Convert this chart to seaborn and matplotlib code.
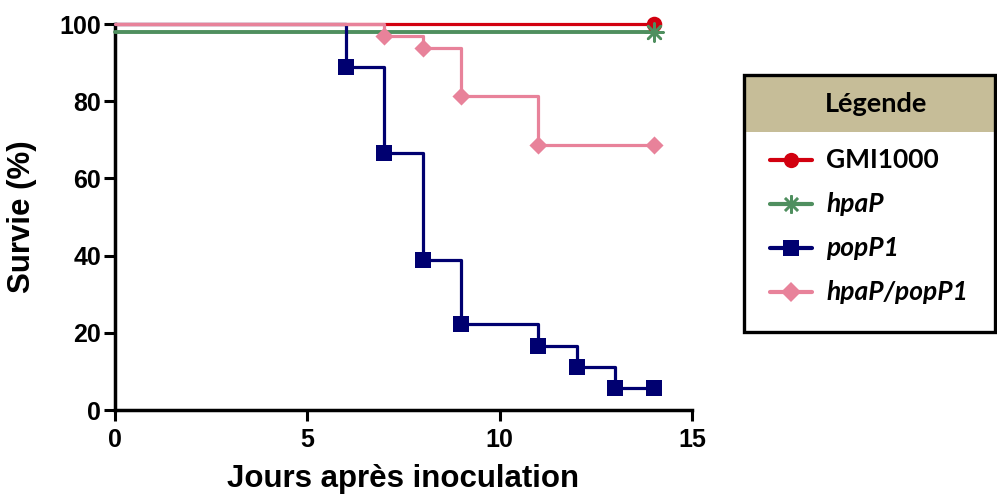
import matplotlib
matplotlib.use("Agg")
import matplotlib.pyplot as plt
from matplotlib.patches import Rectangle
from matplotlib.lines import Line2D
import seaborn as sns

# Kaplan-Meier survival data (days after inoculation, % survival)
gmi_days = [0, 14]
gmi_surv = [100.0, 100.0]
gmi_mark_days = [14]
gmi_mark_surv = [100.0]

hpap_days = [0, 14]
hpap_surv = [98.0, 98.0]
hpap_mark_days = [14]
hpap_mark_surv = [98.0]

popp1_days = [0, 6, 7, 8, 9, 11, 12, 13, 14]
popp1_surv = [100.0, 88.9, 66.7, 38.9, 22.2, 16.7, 11.1, 5.6, 5.6]
popp1_mark_days = [6, 7, 8, 9, 11, 12, 13, 14]
popp1_mark_surv = [88.9, 66.7, 38.9, 22.2, 16.7, 11.1, 5.6, 5.6]

double_days = [0, 7, 8, 9, 11, 14]
double_surv = [100.0, 96.9, 93.75, 81.25, 68.75, 68.75]
double_mark_days = [7, 8, 9, 11, 14]
double_mark_surv = [96.9, 93.75, 81.25, 68.75, 68.75]

x_ticks = [0, 5, 10, 15]
y_ticks = [0, 20, 40, 60, 80, 100]

legend_labels = ["GMI1000", "hpaP", "popP1", "hpaP/popP1"]
legend_italic = [False, True, True, True]

RED = "#d2000f"
GREEN = "#4f8f5f"
NAVY = "#000070"
PINK = "#e8829a"
TAN = "#c6bd98"

sns.set_theme(style="ticks")
plt.rcParams["font.family"] = ["Liberation Sans", "DejaVu Sans"]
plt.rcParams["text.color"] = "black"
plt.rcParams["axes.labelcolor"] = "black"
plt.rcParams["xtick.color"] = "black"
plt.rcParams["ytick.color"] = "black"

W, H = 997, 500
fig = plt.figure(figsize=(W / 100, H / 100), dpi=100)
ax = fig.add_axes([115 / W, 1 - 410 / H, (692 - 115) / W, (410 - 24) / H])

# survival curves as step functions
sns.lineplot(x=gmi_days, y=gmi_surv, drawstyle="steps-post", color=RED,
             lw=2.3, ax=ax, zorder=2, clip_on=False)
sns.lineplot(x=hpap_days, y=hpap_surv, drawstyle="steps-post", color=GREEN,
             lw=2.8, ax=ax, zorder=3, clip_on=False)
sns.lineplot(x=popp1_days, y=popp1_surv, drawstyle="steps-post", color=NAVY,
             lw=2.3, ax=ax, zorder=4, clip_on=False)
sns.lineplot(x=double_days, y=double_surv, drawstyle="steps-post", color=PINK,
             lw=2.3, ax=ax, zorder=5, clip_on=False)

# event markers
sns.scatterplot(x=gmi_mark_days, y=gmi_mark_surv, marker="o", s=125,
                color=RED, linewidth=0, ax=ax, zorder=6, clip_on=False)
sns.scatterplot(x=hpap_mark_days, y=hpap_mark_surv, marker=(8, 2, 0), s=170,
                color=GREEN, linewidth=1.8, ax=ax, zorder=7, clip_on=False)
sns.scatterplot(x=popp1_mark_days, y=popp1_mark_surv, marker="s", s=135,
                color=NAVY, linewidth=0, ax=ax, zorder=8, clip_on=False)
sns.scatterplot(x=double_mark_days, y=double_mark_surv, marker="D", s=85,
                color=PINK, linewidth=0, ax=ax, zorder=9, clip_on=False)

ax.set_xlim(0, 15)
ax.set_ylim(0, 100)
ax.set_xticks(x_ticks)
ax.set_yticks(y_ticks)
ax.set_xticklabels([str(t) for t in x_ticks])
ax.set_yticklabels([str(t) for t in y_ticks])
for side in ("top", "right"):
    ax.spines[side].set_visible(False)
for side in ("left", "bottom"):
    ax.spines[side].set_linewidth(2.5)
    ax.spines[side].set_color("black")
ax.tick_params(axis="both", direction="out", length=8, width=2.2,
               color="black", labelsize=18, labelcolor="black")
ax.tick_params(axis="y", pad=2)
ax.tick_params(axis="x", pad=5)
for lab in ax.get_xticklabels() + ax.get_yticklabels():
    lab.set_fontweight("bold")

ax.set_xlabel("Jours après inoculation", fontsize=22.5, fontweight="bold",
              color="black")
ax.set_ylabel("Survie (%)", fontsize=22.5, fontweight="bold", color="black")
ax.xaxis.set_label_coords(0.5, -0.14)
ax.yaxis.set_label_coords(-0.135, 0.5)
ax.set_facecolor("white")

# legend panel in pixel coordinates
lg = fig.add_axes([740 / W, 1 - 336 / H, (W - 740) / W, (336 - 70) / H])
lg.set_xlim(740, W)
lg.set_ylim(336, 70)
lg.axis("off")
lg.add_patch(Rectangle((743.5, 75), W - 743.5 - 2, 57, facecolor=TAN,
                       edgecolor="none", zorder=1))
lg.add_patch(Rectangle((743.5, 74.5), W - 743.5 - 2, 257.5, facecolor="none",
                       edgecolor="black", lw=2.4, zorder=3))
lg.text(876, 104, "Légende", ha="center", va="center", fontsize=19.5,
        fontweight="bold", family=["Lato", "DejaVu Sans"], color="black")

rows_y = [160, 204, 248, 292]
styles = [
    dict(color=RED, marker="o", ms=11, mew=0, lw=3),
    dict(color=GREEN, marker=(8, 2, 0), ms=13, mew=1.8, lw=3),
    dict(color=NAVY, marker="s", ms=11, mew=0, lw=3),
    dict(color=PINK, marker="D", ms=10, mew=0, lw=3),
]
for yy, st, label, it in zip(rows_y, styles, legend_labels, legend_italic):
    lg.add_line(Line2D([770, 812], [yy, yy], color=st["color"], lw=st["lw"],
                       zorder=4))
    lg.add_line(Line2D([791], [yy], color=st["color"], marker=st["marker"],
                       ms=st["ms"], mew=st["mew"], lw=0, zorder=5))
    lg.text(826, yy, label, ha="left", va="center", fontsize=19,
            fontweight="bold", style="italic" if it else "normal",
            family=["Lato", "DejaVu Sans"], color="black")

fig.savefig("out.png", dpi=100, facecolor="white")
